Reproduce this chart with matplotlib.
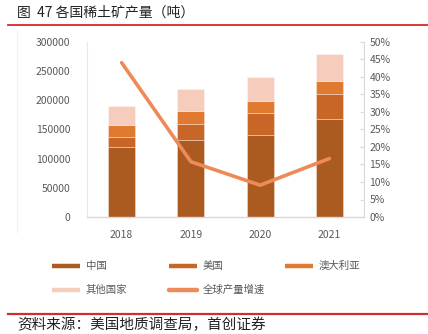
import matplotlib
matplotlib.use("Agg")
import matplotlib.pyplot as plt
from matplotlib.lines import Line2D
import numpy as np

plt.rcParams['font.family'] = ['Noto Sans CJK SC', 'DejaVu Sans']

# Rare-earth mine production by country (tonnes)
years = ['2018', '2019', '2020', '2021']
china = [120000, 132000, 140000, 168000]
usa = [18000, 28000, 38000, 43000]
australia = [20000, 21000, 21000, 22000]
others = [32000, 39000, 41000, 47000]
# Global production growth rate (%)
growth = [44.1, 15.8, 9.1, 16.7]

series_names = ['中国', '美国', '澳大利亚', '其他国家']
line_name = '全球产量增速'
colors = ['#AB5A20', '#C86628', '#E07A30', '#F6CDBD']
line_color = '#EE8A58'
tick_color = '#595959'

W, H = 428, 334
fig = plt.figure(figsize=(W / 100, H / 100), dpi=100)

ax = fig.add_axes([87 / W, 1 - 217 / H, (364 - 87) / W, (217 - 42) / H])
x = np.arange(len(years))
bottom = np.zeros(len(years))
for vals, c in zip([china, usa, australia, others], colors):
    ax.bar(x, vals, width=0.39, bottom=bottom, color=c,
           edgecolor=(1, 1, 1, 0.45), linewidth=0.5, zorder=2)
    bottom += np.array(vals)

ax.set_xlim(-0.5, len(years) - 0.5)
ax.set_ylim(0, 300000)
ax.set_yticks(np.arange(0, 300001, 50000))
ax.set_yticklabels([f'{v}' for v in range(0, 300001, 50000)])
ax.set_xticks(x)
ax.set_xticklabels(years)
ax.tick_params(axis='y', length=0, pad=12, labelsize=7.5, labelcolor=tick_color)
ax.tick_params(axis='x', length=0, pad=9, labelsize=7.5, labelcolor=tick_color)
for s in ['top', 'right']:
    ax.spines[s].set_visible(False)
ax.spines['left'].set_color('#E8E8E8')
ax.spines['bottom'].set_color('#D9D9D9')
ax.spines['bottom'].set_linewidth(1.0)

ax2 = ax.twinx()
ax2.plot(x, growth, color=line_color, linewidth=2.6, solid_capstyle='round',
         solid_joinstyle='round', zorder=3)
ax2.set_ylim(0, 50)
ax2.set_yticks(np.arange(0, 51, 5))
ax2.set_yticklabels([f'{v}%' for v in range(0, 51, 5)])
ax2.tick_params(axis='y', direction='in', length=3, width=0.8, color='#D9D9D9',
                pad=4, labelsize=7.5, labelcolor=tick_color)
for s in ['top', 'left', 'bottom']:
    ax2.spines[s].set_visible(False)
ax2.spines['right'].set_color('#D9D9D9')

# Legend entries laid out on a grid
entries = [(series_names[0], colors[0], 'butt', 50, 266),
           (series_names[1], colors[1], 'butt', 167, 266),
           (series_names[2], colors[2], 'butt', 283, 266),
           (series_names[3], colors[3], 'butt', 50, 290),
           (line_name, line_color, 'round', 167, 290)]
for label, c, cap, px, py in entries:
    yy = 1 - py / H
    fig.add_artist(Line2D([(px + 2) / W, (px + 30) / W], [yy, yy],
                          color=c, linewidth=3.2, solid_capstyle=cap,
                          transform=fig.transFigure))
    fig.text((px + 36) / W, yy, label, fontsize=7.5, color=tick_color,
             va='center', ha='left')

# Title, rules and source note
fig.text(17 / W, 1 - 12 / H, '图  47 各国稀土矿产量（吨）', fontsize=10,
         color='#222222', va='center', ha='left')
fig.add_artist(Line2D([8 / W, 1], [1 - 24.5 / H] * 2, color='#D9262A',
                      linewidth=1.3, transform=fig.transFigure))
fig.add_artist(Line2D([17 / W] * 2, [1 - 232 / H, 1 - 30 / H], color='#F2F2F2',
                      linewidth=0.8, transform=fig.transFigure))
fig.add_artist(Line2D([8 / W, 1], [1 - 313.5 / H] * 2, color='#CC2F2F',
                      linewidth=1.6, transform=fig.transFigure))
fig.text(17 / W, 1 - 325 / H, '资料来源：美国地质调查局，首创证券', fontsize=10.5,
         color='#222222', va='center', ha='left', style='italic')

fig.savefig('out.png', dpi=100)
